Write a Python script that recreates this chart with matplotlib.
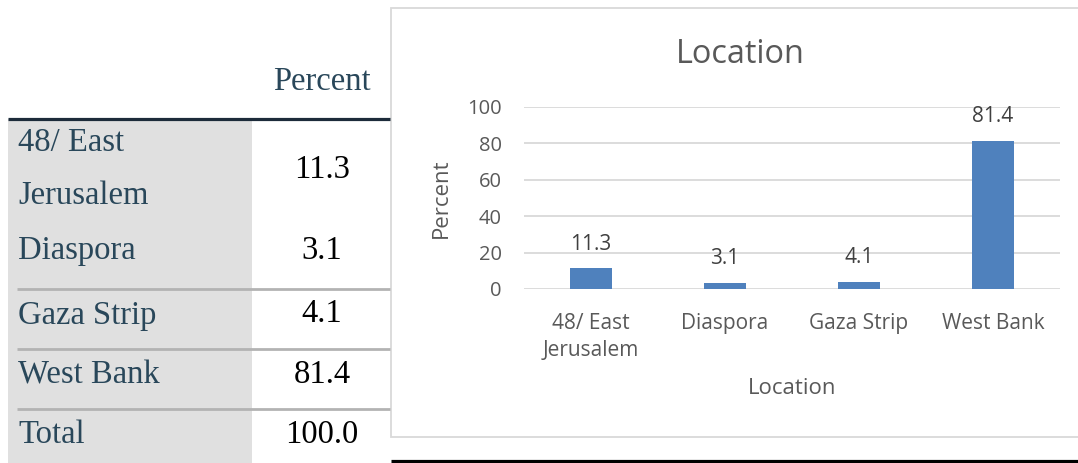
import matplotlib
matplotlib.use("Agg")
import matplotlib.pyplot as plt
from matplotlib.patches import Rectangle

# ---- data ----
categories = ["48/ East\nJerusalem", "Diaspora", "Gaza Strip", "West Bank"]
percent = [11.3, 3.1, 4.1, 81.4]
value_labels = ["11.3", "3.1", "4.1", "81.4"]
table_labels = ["48/ East", "Jerusalem", "Diaspora", "Gaza Strip", "West Bank", "Total"]
table_values = ["11.3", "3.1", "4.1", "81.4", "100.0"]
yticks = [0, 20, 40, 60, 80, 100]

W, H = 1078, 463
fig = plt.figure(figsize=(W / 100, H / 100), dpi=100)
fig.patch.set_facecolor("white")

# ---- overlay in pixel coordinates (table + frames) ----
ov = fig.add_axes([0, 0, 1, 1], zorder=0)
ov.set_xlim(0, W)
ov.set_ylim(H, 0)
ov.axis("off")

serif = "Liberation Serif"
lab_col = "#29475a"
tfs = 23.5
# gray label column
ov.add_patch(Rectangle((8, 119), 244, H - 119, facecolor="#e0e0e0", edgecolor="none"))
# header line
ov.plot([8, 390], [118.5, 118.5], color="#1c2b3a", lw=2.3, solid_capstyle="butt")
# row separators
for yy in [289, 349, 409]:
    ov.plot([17, 390], [yy, yy], color="#b3b3b3", lw=2.0, solid_capstyle="butt")

ov.text(322, 82, "Percent", family=serif, fontsize=tfs, color=lab_col, ha="center", va="center")
label_y = [143, 196, 251, 316, 375, 435]
for t, yy in zip(table_labels, label_y):
    ov.text(18, yy, t, family=serif, fontsize=tfs, color=lab_col, ha="left", va="center")
value_y = [170, 251, 314, 375, 435]
for t, yy in zip(table_values, value_y):
    ov.text(322, yy, t, family=serif, fontsize=tfs, color="black", ha="center", va="center")

# chart frame
ov.add_patch(Rectangle((391, 8), 700, 429, facecolor="white", edgecolor="#d9d9d9", lw=1.3))
# bottom black rule
ov.plot([391, W], [460.5, 460.5], color="black", lw=2.3, solid_capstyle="butt")

# ---- chart ----
sans = "Open Sans"
gcol = "#595959"
x0, x1 = 524, 1060
y100, y0 = 107, 289
ax = fig.add_axes([x0 / W, (H - y0) / H, (x1 - x0) / W, (y0 - y100) / H], zorder=2)
ax.patch.set_alpha(0)
xs = list(range(len(categories)))
bars = ax.bar(xs, percent, width=0.31, color="#4f81bd", zorder=3)
ax.set_xlim(-0.5, len(categories) - 0.5)
ax.set_ylim(0, 100)
ax.set_yticks(yticks)
ax.set_yticklabels([str(v) for v in yticks], family=sans, fontsize=14.5, color=gcol)
ax.set_xticks(xs)
ax.set_xticklabels(categories, family=sans, fontsize=15, color=gcol, linespacing=1.4)
ax.tick_params(axis="both", length=0)
ax.tick_params(axis="y", pad=16)
ax.tick_params(axis="x", pad=17)
ax.grid(axis="y", color="#d9d9d9", lw=1.3, zorder=0)
for s in ax.spines.values():
    s.set_visible(False)
ax.bar_label(bars, labels=value_labels, padding=10, family=sans, fontsize=15, color="#404040")

ax.set_title("Location", family=sans, fontsize=23.4, color=gcol, x=(740 - x0) / (x1 - x0),
             y=(y0 - 71) / (y0 - y100), va="baseline")
ax.set_ylabel("Percent", family=sans, fontsize=16, color=gcol, va="center")
ax.yaxis.set_label_coords((441 - x0) / (x1 - x0), 0.5)
ax.set_xlabel("Location", family=sans, fontsize=16, color=gcol, va="center")
ax.xaxis.set_label_coords((792 - x0) / (x1 - x0), (y0 - 388) / (y0 - y100))

fig.savefig("out.png", dpi=100)
